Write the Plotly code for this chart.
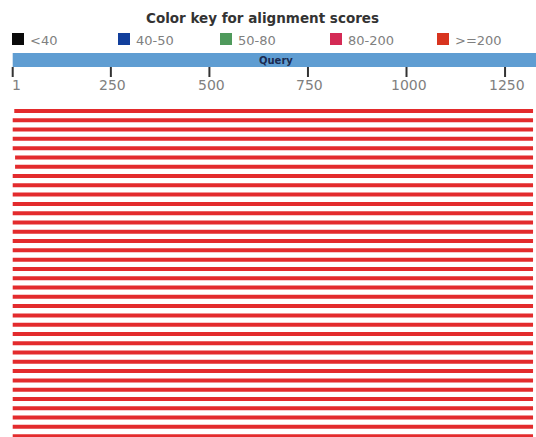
import plotly.graph_objects as go

# ---- data ----
legend_labels = ["<40", "40-50", "50-80", "80-200", ">=200"]
legend_colors = ["#0a0a0a", "#123f9c", "#4f9a5c", "#d42a55", "#d8341f"]
tick_values = [1, 250, 500, 750, 1000, 1250]
tick_labels = ["1", "250", "500", "750", "1000", "1250"]
query_length = 1330
hit_starts = [5, 1, 1, 1, 1, 7, 7, 1, 1, 1, 1, 1,
              1, 1, 1, 1, 1, 1, 1, 1, 1, 1, 1, 1,
              1, 1, 1, 1, 1, 1, 1, 1, 1, 1, 1, 1]
hit_ends = [1321] * 36
hit_scores = [1200] * 36

score_bins = [40, 50, 80, 200]


def score_color(s):
    for b, c in zip(score_bins, legend_colors):
        if s < b:
            return c
    return "#e32b2d"


W, H = 536, 437
px_per_unit = 0.3942
x0_px = 12.7
x_lo = 1 - x0_px / px_per_unit
x_hi = 1 + (W - x0_px) / px_per_unit
row0_px, row_gap = 111.0, 9.29
y_top = -row0_px / row_gap
y_bot = (H - row0_px) / row_gap


def py(px):
    return 1 - px / H


fig = go.Figure()
for i, (s, e, sc) in enumerate(zip(hit_starts, hit_ends, hit_scores)):
    fig.add_trace(go.Scatter(x=[s, e], y=[i, i], mode="lines",
                             line=dict(color=score_color(sc), width=4),
                             hoverinfo="skip", showlegend=False))

shapes = []
annotations = []
font = "DejaVu Sans, Verdana, sans-serif"

annotations.append(dict(text="<b>Color key for alignment scores</b>", x=262 / W, y=py(18),
                        xref="paper", yref="paper", showarrow=False,
                        font=dict(family=font, size=13.5, color="#333333"),
                        xanchor="center", yanchor="middle"))

leg_x = [12, 118, 220, 330, 437]
for lx, lab, col in zip(leg_x, legend_labels, legend_colors):
    shapes.append(dict(type="rect", xref="paper", yref="paper",
                       x0=lx / W, x1=(lx + 12) / W, y0=py(45), y1=py(33),
                       fillcolor=col, line=dict(width=0)))
    annotations.append(dict(text=lab, x=(lx + 16) / W, y=py(40), xref="paper", yref="paper",
                            showarrow=False, xanchor="left", yanchor="middle",
                            font=dict(family=font, size=13, color="#808080")))

# query bar
shapes.append(dict(type="rect", xref="x", yref="paper", x0=1, x1=query_length,
                   y0=py(67), y1=py(53), fillcolor="#5f9dd2", line=dict(width=0)))
annotations.append(dict(text="<b>Query</b>", x=670, y=py(60),
                        xref="x", yref="paper", showarrow=False,
                        xanchor="center", yanchor="middle",
                        font=dict(family=font, size=10, color="#1a2a50")))

for tv, tl in zip(tick_values, tick_labels):
    shapes.append(dict(type="line", xref="x", yref="paper", x0=tv, x1=tv,
                       y0=py(77), y1=py(67), line=dict(color="#333333", width=2)))
    annotations.append(dict(text=tl, x=tv, y=py(85), xref="x", yref="paper",
                            showarrow=False, xanchor="center", yanchor="middle",
                            xshift=4 if tl == "1" else 2,
                            font=dict(family=font, size=14, color="#808080")))

fig.update_layout(
    width=W, height=H,
    margin=dict(l=0, r=0, t=0, b=0),
    paper_bgcolor="white", plot_bgcolor="white",
    xaxis=dict(range=[x_lo, x_hi], visible=False, fixedrange=True),
    yaxis=dict(range=[y_bot, y_top], visible=False, fixedrange=True),
    shapes=shapes, annotations=annotations,
)

fig.write_html("out.html", config={"displayModeBar": False},
               post_script="document.body.style.margin='0';document.body.style.padding='0';")
